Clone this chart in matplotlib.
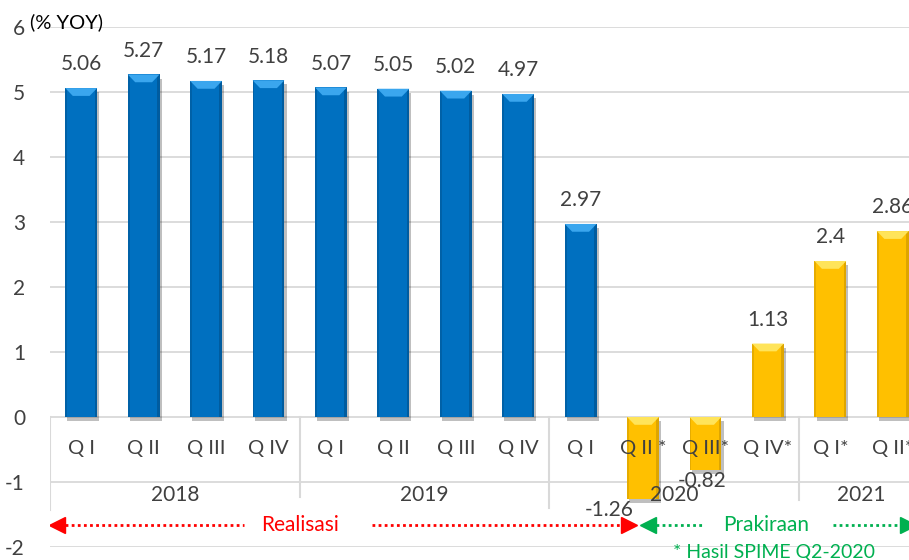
import matplotlib
matplotlib.use("Agg")
import matplotlib.pyplot as plt
import matplotlib.patheffects as pe
from matplotlib.patches import Polygon, Rectangle

plt.rcParams['font.family'] = ['Lato', 'DejaVu Sans']
plt.rcParams['axes.unicode_minus'] = False

# ---- data ----
quarters = ["Q I", "Q II", "Q III", "Q IV",
            "Q I", "Q II", "Q III", "Q IV",
            "Q I", "Q II *", "Q III*", "Q IV*",
            "Q I*", "Q II*"]
values = [5.06, 5.27, 5.17, 5.18, 5.07, 5.05, 5.02, 4.97,
          2.97, -1.26, -0.82, 1.13, 2.4, 2.86]
value_labels = ["5.06", "5.27", "5.17", "5.18", "5.07", "5.05", "5.02", "4.97",
                "2.97", "-1.26", "-0.82", "1.13", "2.4", "2.86"]
is_forecast = [False] * 9 + [True] * 5
years = ["2018", "2019", "2020", "2021"]
year_sizes = [4, 4, 4, 2]
yticks = [6, 5, 4, 3, 2, 1, 0, -1, -2]

# ---- style ----
TXT = "#404040"
BLUE, BLUE_CAP, BLUE_EDGE = "#0070C0", "#3AA6EE", "#004F8A"
GOLD, GOLD_CAP, GOLD_EDGE = "#FFC000", "#FFE45A", "#C99400"
GRID = "#D9D9D9"
bw = 0.51

fig = plt.figure(figsize=(9.09, 5.6), dpi=100)
ax = fig.add_axes([50 / 909, 13 / 560, 874 / 909, 520 / 560])
ax.set_xlim(-0.5, len(values) - 0.5)
ax.set_ylim(-2, 6)
for s in ax.spines.values():
    s.set_visible(False)
ax.set_xticks([])
ax.set_yticks(yticks)
ax.set_yticklabels([str(t) for t in yticks])
ax.tick_params(axis='y', length=0, pad=18, labelsize=15, labelcolor=TXT)
for t in yticks:
    ax.axhline(t, color=GRID, lw=1.3, zorder=0)

shadow = [pe.SimplePatchShadow(offset=(1.5, -3), alpha=0.25, shadow_rgbFace="black"), pe.Normal()]
cap_h = 0.12
inset = 0.12
for i, v in enumerate(values):
    fc, cc, ec = (GOLD, GOLD_CAP, GOLD_EDGE) if is_forecast[i] else (BLUE, BLUE_CAP, BLUE_EDGE)
    left = i - bw / 2
    bars = ax.bar(i, v, width=bw, color=fc, zorder=3)
    bars[0].set_path_effects(shadow)
    top = max(v, 0)
    bot = min(v, 0)
    ax.add_patch(Rectangle((left, bot), 0.03, top - bot, color=ec, alpha=0.45, zorder=4, lw=0))
    ax.add_patch(Rectangle((i + bw / 2 - 0.04, bot), 0.04, top - bot, color=ec, alpha=0.6, zorder=4, lw=0))
    ax.add_patch(Polygon([(left, top), (i + bw / 2, top),
                          (i + bw / 2 - inset, top - cap_h), (left + inset, top - cap_h)],
                         closed=True, color=cc, zorder=5, lw=0))

# value labels
neg_dx = {9: -0.55, 10: -0.05}
for i, (v, lab) in enumerate(zip(values, value_labels)):
    if v >= 0:
        ax.annotate(lab, (i, v), xytext=(0, 17), textcoords="offset points",
                    ha="center", va="center", fontsize=15, color=TXT, zorder=7)
    else:
        ax.annotate(lab, (i + neg_dx.get(i, 0), v), xytext=(0, -8), textcoords="offset points",
                    ha="center", va="center", fontsize=15, color=TXT, zorder=7)

# category labels (drawn above bars)
for i, q in enumerate(quarters):
    ax.text(i, -0.48, q, ha="center", va="center", fontsize=14.5, color=TXT, zorder=8)

# year labels and separators
sep_ends = [-1.43, -1.23, -1.40, -1.28]
start = 0
for k, (yr, n) in enumerate(zip(years, year_sizes)):
    ax.text(start + (n - 1) / 2, -1.2, yr, ha="center", va="center", fontsize=15, color=TXT, zorder=8)
    ax.plot([start - 0.5, start - 0.5], [0, sep_ends[k]], color=GRID, lw=1.5, zorder=1)
    start += n

# (% YOY)
fig.text(30 / 909, 1 - 22 / 560, "(% YOY)", ha="left", va="center", fontsize=14.5, color="black",
         zorder=6)

# Realisasi arrow
ya = -1.66
dots = (0, (1, 1.2))
RED = "#FF0000"
GREEN = "#00B050"
ax.plot([-0.35, 2.6], [ya, ya], color=RED, lw=2, ls=dots, zorder=6)
ax.plot([4.66, 8.75], [ya, ya], color=RED, lw=2, ls=dots, zorder=6)
ax.plot([-0.38], [ya], marker="<", color=RED, ms=11, zorder=7)
ax.plot([8.78], [ya], marker=">", color=RED, ms=11, zorder=7)
ax.text(3.5, ya, "Realisasi", ha="center", va="center", fontsize=15, color=RED)

# Prakiraan arrow
ax.plot([9.2, 9.95], [ya, ya], color=GREEN, lw=2, ls=dots, zorder=6)
ax.plot([12.05, 13.15], [ya, ya], color=GREEN, lw=2, ls=dots, zorder=6)
ax.plot([9.08], [ya], marker="<", color=GREEN, ms=11, zorder=7)
ax.plot([13.25], [ya], marker=">", color=GREEN, ms=11, zorder=7)
ax.text(10.97, ya, "Prakiraan", ha="center", va="center", fontsize=15, color=GREEN)

ax.text(11.1, -2.08, "* Hasil SPIME Q2-2020", ha="center", va="center", fontsize=14, color=GREEN)

fig.savefig("out.png", dpi=100)
